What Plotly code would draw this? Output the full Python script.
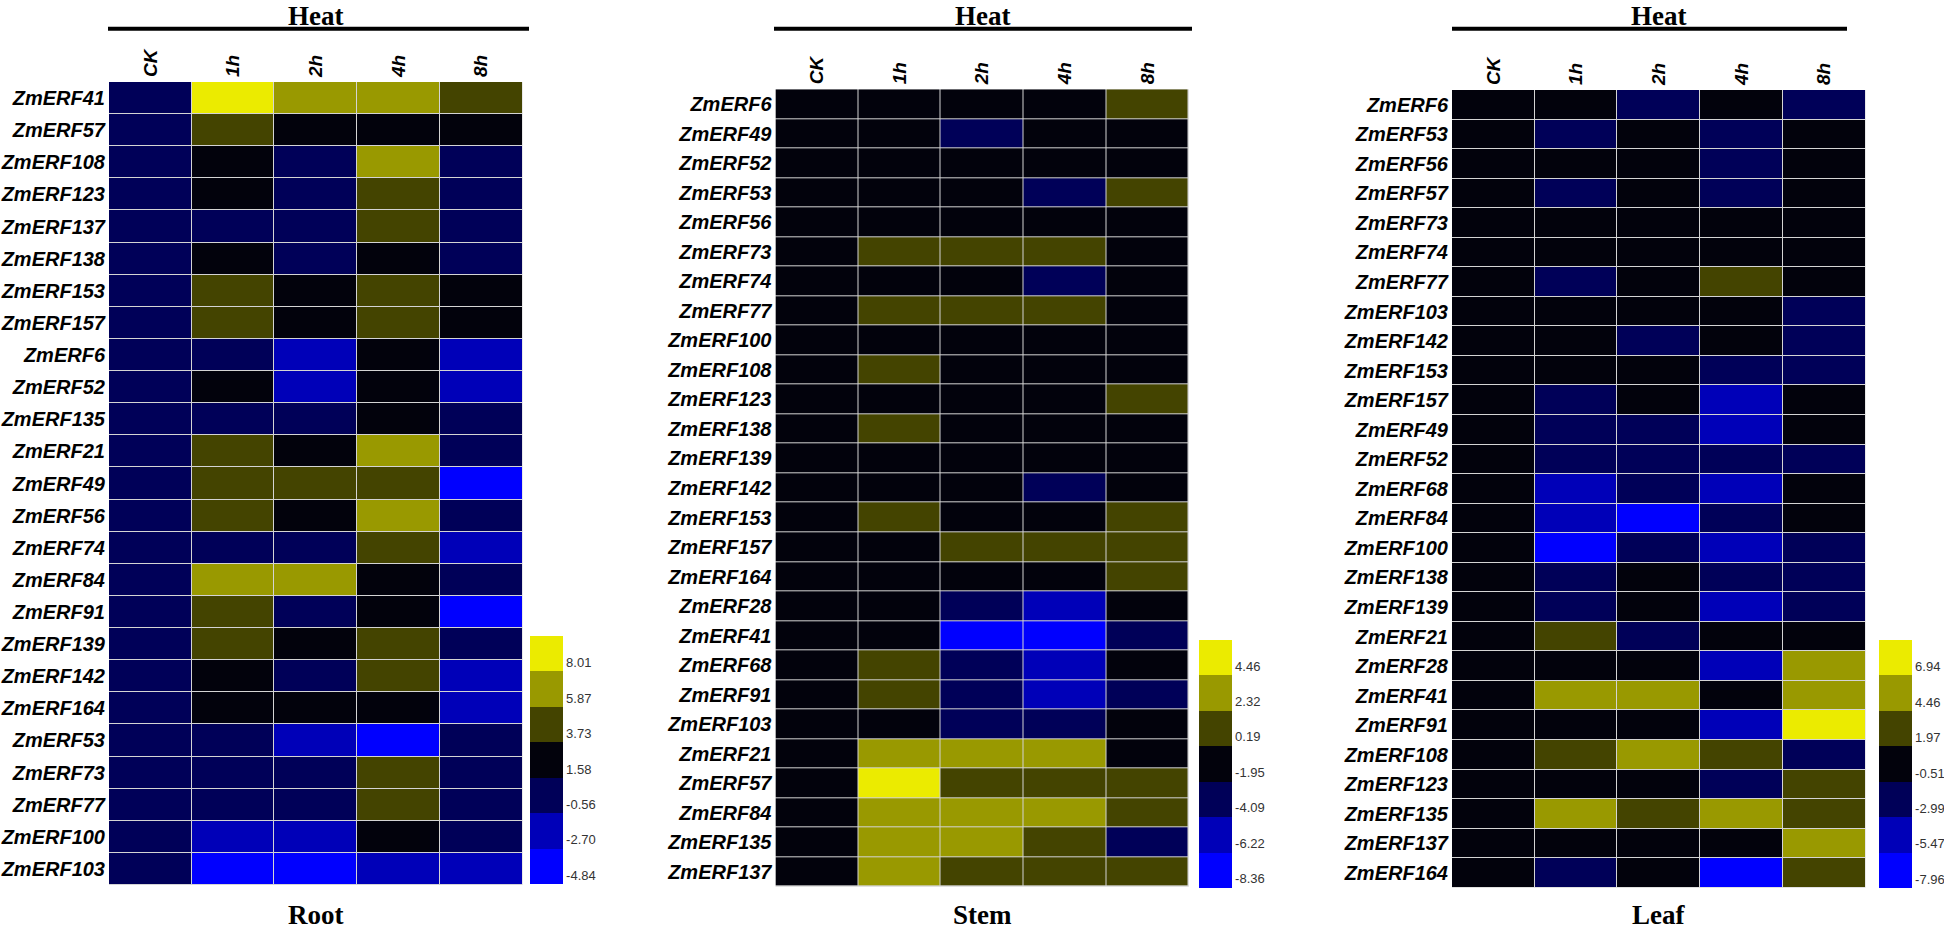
import plotly.graph_objects as go

# ---------------- data ----------------
time_points = ["CK", "1h", "2h", "4h", "8h"]

root_genes = ["ZmERF41", "ZmERF57", "ZmERF108", "ZmERF123", "ZmERF137", "ZmERF138",
              "ZmERF153", "ZmERF157", "ZmERF6", "ZmERF52", "ZmERF135", "ZmERF21",
              "ZmERF49", "ZmERF56", "ZmERF74", "ZmERF84", "ZmERF91", "ZmERF139",
              "ZmERF142", "ZmERF164", "ZmERF53", "ZmERF73", "ZmERF77", "ZmERF100",
              "ZmERF103"]
root_values = [
    [0, 9.1, 6.9, 6.9, 4.8],
    [0, 4.8, 2.7, 2.7, 2.7],
    [0, 2.7, 0.5, 6.9, 0.5],
    [0, 2.7, 0.5, 4.8, 0.5],
    [0, 0.5, 0.5, 4.8, 0.5],
    [0, 2.7, 0.5, 2.7, 0.5],
    [0, 4.8, 2.7, 4.8, 2.7],
    [0, 4.8, 2.7, 4.8, 2.7],
    [0, 0.5, -1.6, 2.7, -1.6],
    [0, 2.7, -1.6, 2.7, -1.6],
    [0, 0.5, 0.5, 2.7, 0.5],
    [0, 4.8, 2.7, 6.9, 0.5],
    [0, 4.8, 4.8, 4.8, -3.8],
    [0, 4.8, 2.7, 6.9, 0.5],
    [0, 0.5, 0.5, 4.8, -1.6],
    [0, 6.9, 6.9, 2.7, 0.5],
    [0, 4.8, 0.5, 2.7, -3.8],
    [0, 4.8, 2.7, 4.8, 0.5],
    [0, 2.7, 0.5, 4.8, -1.6],
    [0, 2.7, 2.7, 2.7, -1.6],
    [0, 0.5, -1.6, -3.8, 0.5],
    [0, 0.5, 0.5, 4.8, 0.5],
    [0, 0.5, 0.5, 4.8, 0.5],
    [0, -1.6, -1.6, 2.7, 0.5],
    [0, -3.8, -3.8, -1.6, -1.6],
]
root_edges = [-4.84, -2.70, -0.56, 1.58, 3.73, 5.87, 8.01, 10.15]
root_ticks = ["-4.84", "-2.70", "-0.56", "1.58", "3.73", "5.87", "8.01"]

stem_genes = ["ZmERF6", "ZmERF49", "ZmERF52", "ZmERF53", "ZmERF56", "ZmERF73",
              "ZmERF74", "ZmERF77", "ZmERF100", "ZmERF108", "ZmERF123", "ZmERF138",
              "ZmERF139", "ZmERF142", "ZmERF153", "ZmERF157", "ZmERF164", "ZmERF28",
              "ZmERF41", "ZmERF68", "ZmERF91", "ZmERF103", "ZmERF21", "ZmERF57",
              "ZmERF84", "ZmERF135", "ZmERF137"]
stem_values = [
    [0, -0.9, -0.9, -0.9, 1.3],
    [0, -0.9, -3.0, -0.9, -0.9],
    [0, -0.9, -0.9, -0.9, -0.9],
    [0, -0.9, -0.9, -3.0, 1.3],
    [0, -0.9, -0.9, -0.9, -0.9],
    [0, 1.3, 1.3, 1.3, -0.9],
    [0, -0.9, -0.9, -3.0, -0.9],
    [0, 1.3, 1.3, 1.3, -0.9],
    [0, -0.9, -0.9, -0.9, -0.9],
    [0, 1.3, -0.9, -0.9, -0.9],
    [0, -0.9, -0.9, -0.9, 1.3],
    [0, 1.3, -0.9, -0.9, -0.9],
    [0, -0.9, -0.9, -0.9, -0.9],
    [0, -0.9, -0.9, -3.0, -0.9],
    [0, 1.3, -0.9, -0.9, 1.3],
    [0, -0.9, 1.3, 1.3, 1.3],
    [0, -0.9, -0.9, -0.9, 1.3],
    [0, -0.9, -3.0, -5.2, -0.9],
    [0, -0.9, -7.3, -7.3, -3.0],
    [0, 1.3, -3.0, -5.2, -0.9],
    [0, 1.3, -3.0, -5.2, -3.0],
    [0, -0.9, -3.0, -3.0, -0.9],
    [0, 3.4, 3.4, 3.4, -0.9],
    [0, 5.5, 1.3, 1.3, 1.3],
    [0, 3.4, 3.4, 3.4, 1.3],
    [0, 3.4, 3.4, 1.3, -3.0],
    [0, 3.4, 1.3, 1.3, 1.3],
]
stem_edges = [-8.36, -6.22, -4.09, -1.95, 0.19, 2.32, 4.46, 6.60]
stem_ticks = ["-8.36", "-6.22", "-4.09", "-1.95", "0.19", "2.32", "4.46"]

leaf_genes = ["ZmERF6", "ZmERF53", "ZmERF56", "ZmERF57", "ZmERF73", "ZmERF74",
              "ZmERF77", "ZmERF103", "ZmERF142", "ZmERF153", "ZmERF157", "ZmERF49",
              "ZmERF52", "ZmERF68", "ZmERF84", "ZmERF100", "ZmERF138", "ZmERF139",
              "ZmERF21", "ZmERF28", "ZmERF41", "ZmERF91", "ZmERF108", "ZmERF123",
              "ZmERF135", "ZmERF137", "ZmERF164"]
leaf_values = [
    [0, 0.7, -1.8, 0.7, -1.8],
    [0, -1.8, 0.7, -1.8, 0.7],
    [0, 0.7, 0.7, -1.8, 0.7],
    [0, -1.8, 0.7, -1.8, 0.7],
    [0, 0.7, 0.7, 0.7, 0.7],
    [0, 0.7, 0.7, 0.7, 0.7],
    [0, -1.8, 0.7, 3.2, 0.7],
    [0, 0.7, 0.7, 0.7, -1.8],
    [0, 0.7, -1.8, 0.7, -1.8],
    [0, 0.7, 0.7, -1.8, -1.8],
    [0, -1.8, 0.7, -4.2, 0.7],
    [0, -1.8, -1.8, -4.2, 0.7],
    [0, -1.8, -1.8, -1.8, -1.8],
    [0, -4.2, -1.8, -4.2, 0.7],
    [0, -4.2, -6.7, -1.8, 0.7],
    [0, -6.7, -1.8, -4.2, -1.8],
    [0, -1.8, 0.7, -1.8, -1.8],
    [0, -1.8, 0.7, -4.2, -1.8],
    [0, 3.2, -1.8, 0.7, 0.7],
    [0, 0.7, 0.7, -4.2, 5.7],
    [0, 5.7, 5.7, 0.7, 5.7],
    [0, 0.7, 0.7, -4.2, 8.2],
    [0, 3.2, 5.7, 3.2, -1.8],
    [0, 0.7, 0.7, -1.8, 3.2],
    [0, 5.7, 3.2, 5.7, 3.2],
    [0, 0.7, 0.7, 0.7, 5.7],
    [0, -1.8, 0.7, -6.7, 3.2],
]
leaf_edges = [-7.96, -5.47, -2.99, -0.51, 1.97, 4.46, 6.94, 9.43]
leaf_ticks = ["-7.96", "-5.47", "-2.99", "-0.51", "1.97", "4.46", "6.94"]

tissue_names = ["Root", "Stem", "Leaf"]
treatment_name = "Heat"

# ---------------- style ----------------
W, H = 1944, 931
bin_colors = ["#0000FF", "#0000B8", "#000058", "#02020C", "#444400", "#999900", "#EBEB00"]


def discrete_scale(colors):
    n = len(colors)
    cs = []
    for i, c in enumerate(colors):
        cs.append([i / n, c])
        cs.append([(i + 1) / n, c])
    return cs


def px_x(x):
    return x / W


def px_y(y):
    return 1 - y / H


panels = [
    dict(genes=root_genes, values=root_values, edges=root_edges, ticks=root_ticks,
         hx=(109, 522.5), hy=(82, 885), cbx=530, cby=884.3, line=(108, 529)),
    dict(genes=stem_genes, values=stem_values, edges=stem_edges, ticks=stem_ticks,
         hx=(775.5, 1188.8), hy=(89.3, 886.7), cbx=1199, cby=887.7, line=(774, 1192)),
    dict(genes=leaf_genes, values=leaf_values, edges=leaf_edges, ticks=leaf_ticks,
         hx=(1452, 1865.5), hy=(90, 887.7), cbx=1879, cby=888.3, line=(1452, 1847)),
]

fig = go.Figure()
label_font = dict(family="Liberation Sans, Arial", size=20, color="black",
                  weight="bold", style="italic")
col_font = dict(family="Liberation Sans, Arial", size=19, color="black",
                weight="bold", style="italic")
title_font = dict(family="Liberation Serif, Times New Roman", size=27, color="black",
                  weight="bold")

layout_axes = {}
shapes = []
annotations = []
for i, p in enumerate(panels):
    k = "" if i == 0 else str(i + 1)
    fig.add_trace(go.Heatmap(
        z=p["values"], x=time_points, y=p["genes"],
        xaxis="x" + k, yaxis="y" + k,
        colorscale=discrete_scale(bin_colors),
        zmin=p["edges"][0], zmax=p["edges"][-1],
        xgap=1, ygap=1,
        colorbar=dict(
            x=px_x(p["cbx"]), xanchor="left", xpad=0,
            y=px_y(p["cby"]), yanchor="bottom", ypad=0,
            len=248, lenmode="pixels", thickness=33, thicknessmode="pixels",
            outlinewidth=0,
            tickvals=p["edges"][:-1], ticktext=p["ticks"],
            ticks="", ticklen=0, ticklabelposition="outside top",
            tickfont=dict(family="Liberation Sans, Arial", size=13, color="#333333"),
        ),
        hovertemplate="%{y} %{x}: %{z}<extra></extra>",
    ))
    layout_axes["xaxis" + k] = dict(
        domain=[px_x(p["hx"][0]), px_x(p["hx"][1])], anchor="y" + k,
        side="top", tickangle=-90, tickfont=col_font, ticks="",
        showgrid=False, zeroline=False, showline=False, ticklabelstandoff=4,
        type="category",
    )
    layout_axes["yaxis" + k] = dict(
        domain=[px_y(p["hy"][1]), px_y(p["hy"][0])], anchor="x" + k,
        autorange="reversed", tickfont=label_font, ticks="",
        showgrid=False, zeroline=False, showline=False, ticklabelstandoff=3,
        type="category",
    )
    cx = (p["hx"][0] + p["hx"][1]) / 2
    shapes.append(dict(type="line", xref="paper", yref="paper",
                       x0=px_x(p["line"][0]), x1=px_x(p["line"][1]),
                       y0=px_y(28.7), y1=px_y(28.7),
                       line=dict(color="black", width=4)))
    annotations.append(dict(text=treatment_name, xref="paper", yref="paper",
                            x=px_x(cx), y=1, xanchor="center", yanchor="top",
                            borderpad=0, showarrow=False, font=title_font))
    annotations.append(dict(text=tissue_names[i], xref="paper", yref="paper",
                            x=px_x(cx), y=0, xanchor="center", yanchor="bottom",
                            borderpad=0, showarrow=False, font=title_font))

fig.update_layout(
    width=W, height=H,
    margin=dict(l=0, r=0, t=0, b=0),
    paper_bgcolor="white", plot_bgcolor="#D4D4D4",
    shapes=shapes, annotations=annotations,
    showlegend=False,
    **layout_axes,
)

fig.write_html(
    "out.html",
    config={"displayModeBar": False},
    post_script="document.body.style.margin='0px';document.body.style.overflow='hidden';",
)
